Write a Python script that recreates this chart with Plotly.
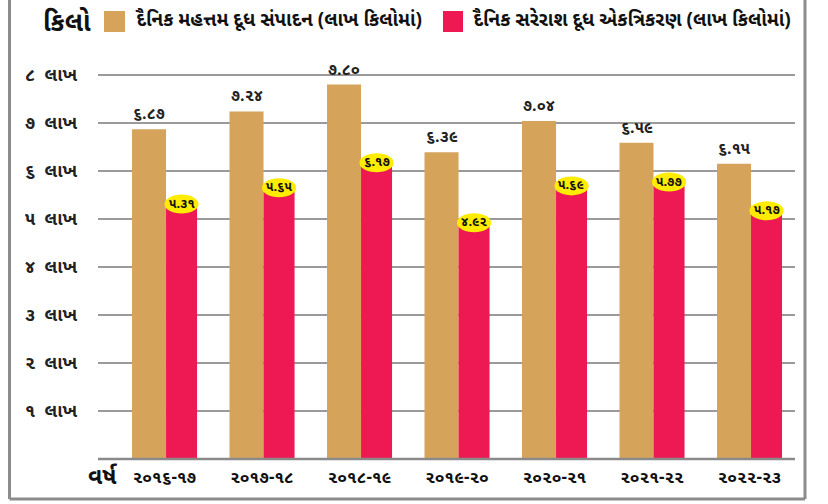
import plotly.graph_objects as go

years = ["૨૦૧૬-૧૭", "૨૦૧૭-૧૮", "૨૦૧૮-૧૯", "૨૦૧૯-૨૦", "૨૦૨૦-૨૧", "૨૦૨૧-૨૨", "૨૦૨૨-૨૩"]
production = [6.87, 7.24, 7.80, 6.39, 7.04, 6.59, 6.15]
collection = [5.31, 5.65, 6.17, 4.92, 5.69, 5.77, 5.17]
production_labels = ["૬.૮૭", "૭.૨૪", "૭.૮૦", "૬.૩૯", "૭.૦૪", "૬.૫૯", "૬.૧૫"]
collection_labels = ["૫.૩૧", "૫.૬૫", "૬.૧૭", "૪.૯૨", "૫.૬૯", "૫.૭૭", "૫.૧૭"]
ytick_vals = [1, 2, 3, 4, 5, 6, 7, 8]
ytick_text = ["૧  લાખ", "૨  લાખ", "૩  લાખ", "૪  લાખ", "૫  લાખ", "૬  લાખ", "૭  લાખ", "૮  લાખ"]
legend_names = ["દૈનિક મહત્તમ દૂધ સંપાદન (લાખ કિલોમાં)", "દૈનિક સરેરાશ દૂધ એકત્રિકરણ (લાખ કિલોમાં)"]
unit_label = "કિલો"
axis_label = "વર્ષ"

GOLD = "#D6A35A"
RED = "#EE1852"
YELLOW = "#FFEC00"
GRID = "#9a9a9a"
BORDER = "#8c8c8c"
FONT = "Noto Sans Gujarati, Noto Sans, DejaVu Sans, sans-serif"

W, H = 828, 504

def px(x):
    return x / W

def py(y):
    return 1 - y / H

xs = list(range(len(years)))

fig = go.Figure()
fig.add_trace(go.Bar(x=xs, y=production, marker=dict(color=GOLD, line=dict(width=0)),
                     width=0.349, offset=-0.333, name=legend_names[0], hoverinfo="y"))
fig.add_trace(go.Bar(x=xs, y=collection, marker=dict(color=RED, line=dict(width=0)),
                     width=0.318, offset=0.016, name=legend_names[1], hoverinfo="y"))

shapes = [
    dict(type="line", xref="paper", yref="paper", x0=px(9.5), x1=px(9.5), y0=py(0), y1=py(499),
         line=dict(color=BORDER, width=3)),
    dict(type="line", xref="paper", yref="paper", x0=px(9.5), x1=px(805), y0=py(499), y1=py(499),
         line=dict(color=BORDER, width=3)),
    dict(type="line", xref="paper", yref="paper", x0=px(805), x1=px(805), y0=py(0), y1=py(499),
         line=dict(color=BORDER, width=3)),
]
annotations = []
for i, (p, c, pl, cl) in enumerate(zip(production, collection, production_labels, collection_labels)):
    annotations.append(dict(x=i - 0.333 + 0.349 / 2, y=p, text="<b>" + pl + "</b>", showarrow=False,
                            yanchor="bottom", yshift=1, xref="x", yref="y",
                            font=dict(family=FONT, size=16, color="#222")))
    shapes.append(dict(type="circle", xref="x", yref="y", ysizemode="pixel", yanchor=c,
                       x0=i + 0.0, x1=i + 0.35, y0=-9.5, y1=9.5,
                       fillcolor=YELLOW, line=dict(width=0), layer="above"))
    annotations.append(dict(x=i + 0.016 + 0.318 / 2, y=c, text="<b>" + cl + "</b>", showarrow=False,
                            xref="x", yref="y",
                            font=dict(family=FONT, size=13, color="#111")))

# baseline
shapes.append(dict(type="line", xref="paper", yref="paper", x0=px(98), x1=px(795), y0=py(459), y1=py(459),
                   line=dict(color="#8a8a8a", width=2.5), layer="above"))

# legend squares
shapes.append(dict(type="rect", xref="paper", yref="paper", x0=px(104), x1=px(125), y0=py(11), y1=py(32),
                   fillcolor=GOLD, line=dict(width=0)))
shapes.append(dict(type="rect", xref="paper", yref="paper", x0=px(443), x1=px(463), y0=py(11), y1=py(32),
                   fillcolor=RED, line=dict(width=0)))
annotations.append(dict(xref="paper", yref="paper", x=px(133), y=py(21), xanchor="left", yanchor="middle",
                        text="<b>" + legend_names[0] + "</b>", showarrow=False,
                        font=dict(family=FONT, size=19, color="#111")))
annotations.append(dict(xref="paper", yref="paper", x=px(470), y=py(21), xanchor="left", yanchor="middle",
                        text="<b>" + legend_names[1] + "</b>", showarrow=False,
                        font=dict(family=FONT, size=19, color="#111")))
annotations.append(dict(xref="paper", yref="paper", x=px(67), y=py(24), xanchor="center", yanchor="middle",
                        text="<b>" + unit_label + "</b>", showarrow=False,
                        font=dict(family=FONT, size=26, color="#111")))
annotations.append(dict(xref="paper", yref="paper", x=px(102), y=py(478), xanchor="center", yanchor="middle",
                        text="<b>" + axis_label + "</b>", showarrow=False,
                        font=dict(family=FONT, size=23, color="#111")))

fig.update_layout(
    width=W, height=H,
    margin=dict(l=0, r=0, t=0, b=0, pad=0),
    paper_bgcolor="white", plot_bgcolor="white",
    showlegend=False,
    barmode="overlay",
    shapes=shapes, annotations=annotations,
    xaxis=dict(domain=[98 / W, 795 / W], range=[-0.682, 6.467], tickvals=xs,
               ticktext=["<b>" + y + "</b>" for y in years],
               showgrid=False, zeroline=False, showline=False, ticks="", automargin=False,
               tickfont=dict(family=FONT, size=17, color="#111"), ticklabelstandoff=6),
    yaxis=dict(domain=[1 - 459 / H, 1 - 51 / H], range=[0, 8.5], tickvals=ytick_vals,
               ticktext=["<b>" + t + "</b>" for t in ytick_text],
               showgrid=True, gridcolor=GRID, gridwidth=2, zeroline=False, showline=False, ticks="",
               automargin=False,
               tickfont=dict(family=FONT, size=18, color="#222"), ticklabelstandoff=20),
)

fig.write_html("out.html", config={"displayModeBar": False},
               post_script="document.body.style.margin='0';")
